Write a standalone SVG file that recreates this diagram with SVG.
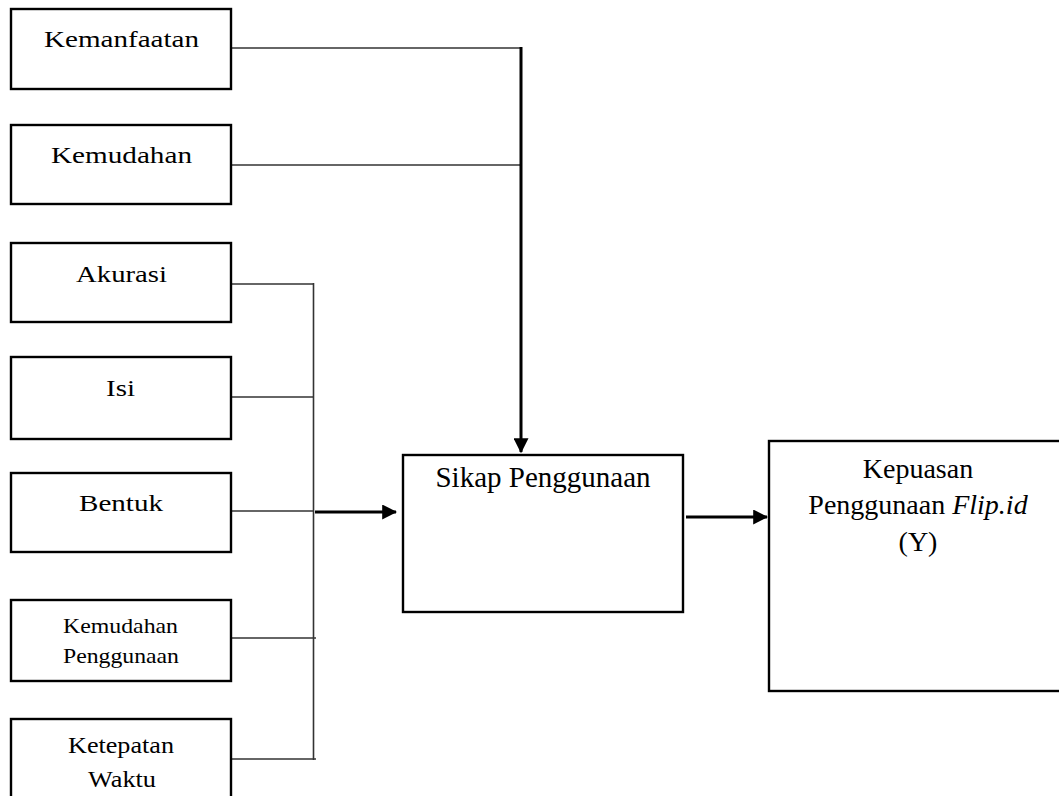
<svg xmlns="http://www.w3.org/2000/svg" width="1059" height="796" viewBox="0 0 1059 796">
<style>
.box{fill:#fff;stroke:#000;stroke-width:2.4}
.t{font-family:"Liberation Serif","Times New Roman",serif;fill:#000}
.c{stroke:#333;stroke-width:1.6;fill:none}
.ct{stroke:#000;stroke-width:3;fill:none}
</style>
<defs>
<marker id="ah" markerWidth="5" markerHeight="5" refX="4.6" refY="2.5" orient="auto" markerUnits="strokeWidth">
<path d="M0,0 L5,2.5 L0,5 Z" fill="#000"/>
</marker>
</defs>
<rect width="1059" height="796" fill="#fff"/>
<g id="connectors">
<line class="c" x1="231" y1="48" x2="521" y2="48"/>
<line class="c" x1="231" y1="165" x2="521" y2="165"/>
<line class="ct" x1="521" y1="47" x2="521" y2="452" marker-end="url(#ah)"/>
<line class="c" x1="230" y1="284" x2="314" y2="284"/>
<line class="c" x1="231" y1="397" x2="314" y2="397"/>
<line class="c" x1="231" y1="511" x2="314" y2="511"/>
<line class="c" x1="231" y1="638" x2="316" y2="638"/>
<line class="c" x1="231" y1="759" x2="316" y2="759"/>
<line class="c" x1="313.5" y1="283" x2="313.5" y2="760"/>
<line class="ct" x1="315" y1="512" x2="396" y2="512" marker-end="url(#ah)"/>
<line class="ct" x1="686" y1="517" x2="767" y2="517" marker-end="url(#ah)"/>
</g>
<g id="kemanfaatan"><rect class="box" x="11" y="9" width="220" height="80"/><text class="t" x="44" y="47" font-size="24" textLength="155" lengthAdjust="spacingAndGlyphs">Kemanfaatan</text></g>
<g id="kemudahan"><rect class="box" x="11" y="125" width="220" height="79"/><text class="t" x="51" y="163" font-size="24" textLength="141" lengthAdjust="spacingAndGlyphs">Kemudahan</text></g>
<g id="akurasi"><rect class="box" x="11" y="243" width="220" height="79"/><text class="t" x="76" y="282" font-size="24" textLength="91" lengthAdjust="spacingAndGlyphs">Akurasi</text></g>
<g id="isi"><rect class="box" x="11" y="357" width="220" height="82"/><text class="t" x="106" y="396" font-size="24" textLength="29" lengthAdjust="spacingAndGlyphs">Isi</text></g>
<g id="bentuk"><rect class="box" x="11" y="473" width="220" height="79"/><text class="t" x="79" y="511" font-size="24" textLength="84" lengthAdjust="spacingAndGlyphs">Bentuk</text></g>
<g id="kemudahan-penggunaan"><rect class="box" x="11" y="600" width="220" height="81"/><text class="t" x="63" y="633" font-size="21" textLength="115" lengthAdjust="spacingAndGlyphs">Kemudahan</text><text class="t" x="63" y="663" font-size="21" textLength="116" lengthAdjust="spacingAndGlyphs">Penggunaan</text></g>
<g id="ketepatan-waktu"><rect class="box" x="11" y="719" width="220" height="100"/><text class="t" x="68" y="753" font-size="24" textLength="106" lengthAdjust="spacingAndGlyphs">Ketepatan</text><text class="t" x="88" y="787" font-size="24" textLength="68" lengthAdjust="spacingAndGlyphs">Waktu</text></g>
<g id="sikap-penggunaan"><rect class="box" x="403" y="455" width="280" height="157"/><text class="t" x="543" y="487" font-size="29" text-anchor="middle">Sikap Penggunaan</text></g>
<g id="kepuasan"><rect class="box" x="769" y="441" width="300" height="250"/><text class="t" x="918" y="478" font-size="28" text-anchor="middle">Kepuasan</text><text class="t" x="918" y="514" font-size="28" text-anchor="middle">Penggunaan <tspan font-style="italic">Flip.id</tspan></text><text class="t" x="918" y="551" font-size="28" text-anchor="middle">(Y)</text></g>
</svg>
